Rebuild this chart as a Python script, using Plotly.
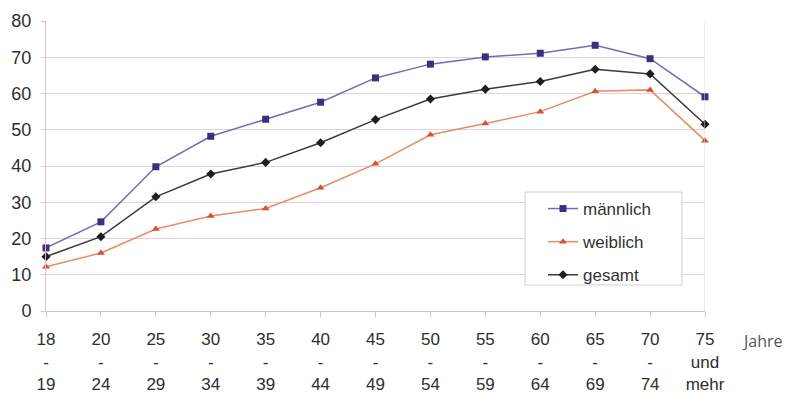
import plotly.graph_objects as go

# Altersgruppen (Jahre)
altersgruppen = ["18<br>-<br>19", "20<br>-<br>24", "25<br>-<br>29", "30<br>-<br>34",
                 "35<br>-<br>39", "40<br>-<br>44", "45<br>-<br>49", "50<br>-<br>54",
                 "55<br>-<br>59", "60<br>-<br>64", "65<br>-<br>69", "70<br>-<br>74",
                 "75<br>und<br>mehr"]

maennlich = [17.4, 24.6, 39.8, 48.2, 52.9, 57.6, 64.3, 68.1, 70.1, 71.1, 73.3, 69.6, 59.1]
weiblich = [12.2, 16.0, 22.6, 26.2, 28.3, 34.0, 40.6, 48.6, 51.7, 55.0, 60.6, 61.0, 47.0]
gesamt = [15.0, 20.5, 31.5, 37.8, 41.0, 46.4, 52.8, 58.5, 61.2, 63.3, 66.7, 65.4, 51.5]

y_ticks = [0, 10, 20, 30, 40, 50, 60, 70, 80]

pos = list(range(len(altersgruppen)))

W, H = 800, 394
ML, MR, MT, MB = 46, 95, 21, 83
PW, PH = W - ML - MR, H - MT - MB


def px_x(x):
    return (x - ML) / PW


def px_y(y):
    return (H - MB - y) / PH


fig = go.Figure()
fig.add_trace(go.Scatter(
    x=pos, y=maennlich, name="männlich", mode="lines+markers", legendgroup="m",
    line=dict(color="#7a68b8", width=1.5),
    marker=dict(symbol="square", size=7, color="#3d2f80"),
    cliponaxis=False))
fig.add_trace(go.Scatter(
    x=pos, y=weiblich, name="weiblich", mode="lines+markers", legendgroup="w",
    line=dict(color="#ec8a62", width=1.5),
    marker=dict(symbol="triangle-up", size=7, color="#d4503a"),
    cliponaxis=False))
fig.add_trace(go.Scatter(
    x=pos, y=gesamt, name="gesamt", mode="lines+markers", legendgroup="g",
    line=dict(color="#3a3a3a", width=1.5),
    marker=dict(symbol="diamond", size=7, color="#1e1e1e"),
    cliponaxis=False))

fig.update_layout(
    width=W, height=H,
    margin=dict(l=ML, r=MR, t=MT, b=MB, autoexpand=False),
    paper_bgcolor="white", plot_bgcolor="white",
    font=dict(family="Liberation Sans, Arial, sans-serif", size=16, color="#2e2e2e"),
    showlegend=True,
    legend=dict(
        x=px_x(543), y=px_y(191), xref="paper", yref="paper",
        xanchor="left", yanchor="top",
        bgcolor="rgba(0,0,0,0)", borderwidth=0,
        font=dict(size=17, color="#333333"),
        tracegroupgap=8, itemwidth=30,
    ),
    xaxis=dict(
        range=[0, 12], tickmode="array", tickvals=pos, ticktext=altersgruppen,
        showgrid=False, zeroline=False,
        showline=True, linecolor="#c8c8c8", linewidth=1,
        ticks="outside", ticklen=5, tickcolor="#c8c8c8",
        ticklabelstandoff=8,
        tickfont=dict(size=17, color="#2e2e2e"),
    ),
    yaxis=dict(
        range=[0, 80], tickmode="array", tickvals=y_ticks,
        showgrid=True, gridcolor="#e2d2da", gridwidth=1,
        zeroline=False, showline=True, linecolor="#e4bcd0", linewidth=1,
        ticks="outside", ticklen=4, tickcolor="#c8c8c8",
        ticklabelstandoff=6,
        tickfont=dict(size=18, color="#2e2e2e"),
    ),
    shapes=[
        # right border of the plot area
        dict(type="line", xref="x", yref="paper", x0=12, x1=12, y0=0, y1=1,
             line=dict(color="#d8d8d8", width=1)),
        # legend frame
        dict(type="rect", xref="paper", yref="paper", layer="above",
             x0=px_x(525), x1=px_x(682), y0=px_y(285), y1=px_y(192),
             fillcolor="white", line=dict(color="#d0d0d0", width=1)),
    ],
    annotations=[dict(text="Jahre", x=px_x(740), y=px_y(341),
                      xref="paper", yref="paper", showarrow=False,
                      font=dict(family="Open Sans, sans-serif", size=16, color="#555555"),
                      xanchor="left", yanchor="middle")],
)

fig.write_html("out.html")
